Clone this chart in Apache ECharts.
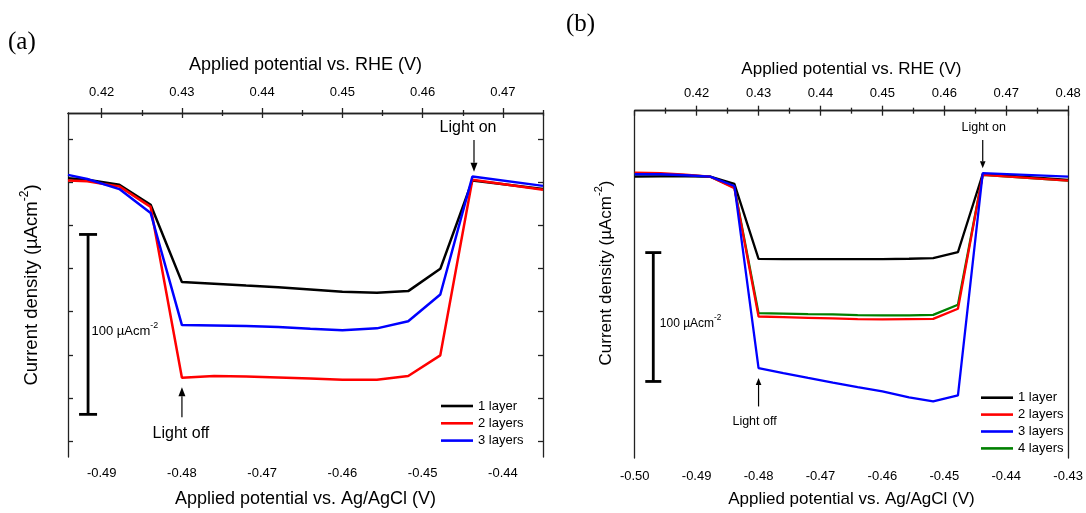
<!DOCTYPE html>
<html><head><meta charset="utf-8">
<script src="https://cdn.jsdelivr.net/npm/echarts@6/dist/echarts.min.js"></script>
<style>html,body{margin:0;padding:0;background:#fff}#c{width:1086px;height:513px}</style>
</head><body><div id="c"></div>
<script>
// ---------- data ----------
const RHE_SHIFT = 0.91; // E(RHE) = E(Ag/AgCl) + 0.91 V
const layerNames = ['1 layer', '2 layers', '3 layers', '4 layers'];
const layerColors = ['#000000', '#ff0000', '#0000ff', '#008000'];

// panel (a): potential vs Ag/AgCl (V) and current density (µA cm-2, arbitrary offset)
const potA = [-0.4942, -0.4918, -0.4878, -0.4839, -0.4800, -0.4760, -0.4720, -0.4680, -0.4640, -0.4600, -0.4557, -0.4518, -0.4478, -0.4438, -0.4350];
const a1 = [-36.2, -37.1, -39.9, -51.0, -94.0, -94.9, -95.9, -96.8, -98.1, -99.4, -99.9, -99.0, -86.6, -37.5, -42.3];
const a2 = [-37.5, -38.0, -40.8, -52.2, -147.1, -146.2, -146.5, -147.0, -147.6, -148.2, -148.2, -146.2, -134.7, -37.1, -42.7];
const a3 = [-34.4, -36.7, -42.3, -55.6, -117.9, -118.1, -118.4, -119.0, -119.9, -120.7, -119.7, -115.7, -100.9, -35.3, -40.5];

// panel (b)
const potB = [-0.5000, -0.4958, -0.4918, -0.4878, -0.4839, -0.4800, -0.4760, -0.4720, -0.4680, -0.4640, -0.4600, -0.4557, -0.4518, -0.4478, -0.4438, -0.4300];
const b1 = [-51.2, -51.0, -50.9, -51.2, -56.8, -115.0, -115.2, -115.2, -115.2, -115.2, -115.2, -114.9, -114.4, -109.8, -49.1, -53.7];
const b2 = [-48.1, -48.5, -49.6, -51.2, -60.2, -159.7, -160.2, -160.7, -161.2, -161.7, -161.9, -161.7, -161.5, -153.7, -49.8, -54.3];
const b3 = [-49.3, -49.3, -50.1, -51.2, -58.4, -199.7, -203.6, -207.4, -211.0, -214.5, -217.8, -222.5, -225.6, -220.9, -48.5, -51.2];
const b4 = [-49.3, -49.3, -50.1, -51.2, -59.5, -157.1, -157.4, -157.8, -158.1, -158.6, -158.9, -158.8, -158.4, -150.6, -49.8, -54.3];

// axis ranges and ticks
const rangeA = [-0.4942, -0.435];
const rangeB = [-0.50, -0.43];
const yRangeA = [-191.2, 0];
const yRangeB = [-269.5, 0];
const ticksA = [-0.49, -0.48, -0.47, -0.46, -0.45, -0.44];
const minorA = [-0.485, -0.475, -0.465, -0.455, -0.445, -0.435];
const topTicksA = [0.42, 0.43, 0.44, 0.45, 0.46, 0.47];
const topMinorA = [0.425, 0.435, 0.445, 0.455, 0.465, 0.475];
const ticksB = [-0.50, -0.49, -0.48, -0.47, -0.46, -0.45, -0.44, -0.43];
const minorB = [-0.495, -0.485, -0.475, -0.465, -0.455, -0.445, -0.435];
const topTicksB = [0.41, 0.42, 0.43, 0.44, 0.45, 0.46, 0.47, 0.48];
const topMinorB = [0.415, 0.425, 0.435, 0.445, 0.455, 0.465, 0.475];
const yTicksA = [-14.4, -38.4, -62.4, -86.4, -110.4, -134.4, -158.4, -182.4];

// annotations (data coordinates): [potential, yStart, yEnd]
const scaleBarA = [-0.4917, -67.5, -167.5];
const scaleBarB = [-0.4970, -110.1, -210.1];
const lightOffA = [-0.48, -169.1, -152.4];
const lightOnA = [-0.4436, -15.0, -32.7];
const lightOffB = [-0.48, -229.5, -207.4];
const lightOnB = [-0.4438, -22.7, -44.7];

// ---------- chart ----------
const FONT = '"Liberation Sans", Arial, sans-serif';
const chart = echarts.init(document.getElementById('c'), null, {renderer: 'canvas'});
const fmt = v => Number(v).toFixed(2);
const AXC = '#222';

function zip(x, y) { return x.map((v, i) => [v, y[i]]); }

function xAxisMajor(grid, pos, range, ticks, name, nameSize, nameGap, labelMargin) {
  return {
    type: 'value', gridIndex: grid, position: pos, min: range[0], max: range[1],
    name: name, nameLocation: 'middle', nameGap: nameGap,
    nameTextStyle: {fontFamily: FONT, fontSize: nameSize, color: '#000'},
    axisLine: {show: true, lineStyle: {color: AXC, width: 1.3}},
    axisTick: {show: true, inside: false, length: 5, customValues: ticks, lineStyle: {color: AXC, width: 1.3}},
    axisLabel: {show: true, customValues: ticks, formatter: fmt, fontFamily: FONT, fontSize: 13, color: '#000', margin: labelMargin},
    splitLine: {show: false}
  };
}
function xAxisMinor(grid, pos, range, ticks) {
  return {
    type: 'value', gridIndex: grid, position: pos, min: range[0], max: range[1],
    axisLine: {show: false},
    axisTick: {show: true, inside: false, length: 3, customValues: ticks, lineStyle: {color: AXC, width: 1.3}},
    axisLabel: {show: false}, splitLine: {show: false}
  };
}
function yAxis(grid, pos, range, ticks) {
  return {
    type: 'value', gridIndex: grid, position: pos, min: range[0], max: range[1],
    axisLine: {show: true, lineStyle: {color: AXC, width: 1.3}},
    axisTick: ticks ? {show: true, inside: true, length: 5, customValues: ticks, lineStyle: {color: AXC, width: 1.3}} : {show: false},
    axisLabel: {show: false}, splitLine: {show: false}
  };
}

const shift = r => [r[0] + RHE_SHIFT, r[1] + RHE_SHIFT];

function scaleBarRender(capHalf, lw, dx, dy, fs) {
  return function (params, api) {
    const p1 = api.coord([api.value(0), api.value(1)]);
    const p2 = api.coord([api.value(0), api.value(2)]);
    const st = {stroke: '#000', lineWidth: lw};
    return {type: 'group', children: [
      {type: 'line', shape: {x1: p1[0], y1: p1[1], x2: p2[0], y2: p2[1]}, style: st},
      {type: 'line', shape: {x1: p1[0] - capHalf, y1: p1[1], x2: p1[0] + capHalf, y2: p1[1]}, style: st},
      {type: 'line', shape: {x1: p2[0] - capHalf, y1: p2[1], x2: p2[0] + capHalf, y2: p2[1]}, style: st},
      {type: 'text', x: p1[0] + dx, y: (p1[1] + p2[1]) / 2 + dy, style: {
        text: '{n|100 µAcm}{s|-2}', align: 'left', verticalAlign: 'middle', textAlign: 'left', textVerticalAlign: 'middle',
        rich: {n: {fontFamily: FONT, fontSize: fs, lineHeight: fs + 4, verticalAlign: 'bottom', fill: '#000'},
               s: {fontFamily: FONT, fontSize: fs * 0.68, lineHeight: fs * 0.7, verticalAlign: 'top', fill: '#000'}}
      }}
    ]};
  };
}
function arrowRender(text, head, headW, textDx, textDy, fs) {
  return function (params, api) {
    const p1 = api.coord([api.value(0), api.value(1)]);
    const p2 = api.coord([api.value(0), api.value(2)]);
    const dir = p2[1] > p1[1] ? 1 : -1;
    const base = p2[1] - dir * head;
    return {type: 'group', children: [
      {type: 'line', shape: {x1: p1[0], y1: p1[1], x2: p2[0], y2: base}, style: {stroke: '#000', lineWidth: 1.2}},
      {type: 'polygon', shape: {points: [[p2[0], p2[1]], [p2[0] - headW, base], [p2[0] + headW, base]]}, style: {fill: '#000'}},
      {type: 'text', x: p1[0] + textDx, y: p1[1] + textDy, style: {
        text: text, fontFamily: FONT, fontSize: fs, fill: '#000',
        align: 'center', verticalAlign: 'middle', textAlign: 'center', textVerticalAlign: 'middle'}}
    ]};
  };
}

const seriesA = [a1, a2, a3].map((d, i) => ({
  type: 'line', name: layerNames[i], xAxisIndex: 0, yAxisIndex: 0, data: zip(potA, d),
  symbol: 'none', showSymbol: false, color: layerColors[i], lineStyle: {width: 2.5, color: layerColors[i]},
  animation: false, z: 3 + i
}));
const seriesB = [b1, b2, b3, b4].map((d, i) => ({
  type: 'line', name: layerNames[i], xAxisIndex: 4, yAxisIndex: 2, data: zip(potB, d),
  symbol: 'none', showSymbol: false, color: layerColors[i], lineStyle: {width: 2.3, color: layerColors[i]},
  animation: false, z: i === 3 ? 2 : 3 + i
}));

const yTitle = (x, y, fs) => ({
  type: 'text', x: x, y: y, rotation: Math.PI / 2,
  style: {text: '{n|Current density (µAcm}{s|-2}{n|)}', align: 'center', verticalAlign: 'middle',
    textAlign: 'center', textVerticalAlign: 'middle',
    rich: {n: {fontFamily: FONT, fontSize: fs, lineHeight: fs + 4, verticalAlign: 'bottom', fill: '#000'},
           s: {fontFamily: FONT, fontSize: fs * 0.65, lineHeight: fs * 0.7, verticalAlign: 'top', fill: '#000'}}}
});

const legendBase = {
  orient: 'vertical', icon: 'rect', itemWidth: 32, itemHeight: 2.6, padding: 0, selectedMode: false,
  textStyle: {fontFamily: FONT, fontSize: 13, color: '#000', lineHeight: 13}
};

const option = {
  backgroundColor: '#ffffff',
  animation: false,
  grid: [
    {left: 68, top: 113, width: 475, height: 345},
    {left: 634.7, top: 110.7, width: 434.3, height: 347.6}
  ],
  xAxis: [
    xAxisMajor(0, 'bottom', rangeA, ticksA, 'Applied potential vs. Ag/AgCl (V)', 18, 33, 10),
    xAxisMinor(0, 'bottom', rangeA, minorA),
    xAxisMajor(0, 'top', shift(rangeA), topTicksA, 'Applied potential vs. RHE (V)', 18, 39, 14),
    xAxisMinor(0, 'top', shift(rangeA), topMinorA),
    xAxisMajor(1, 'bottom', rangeB, ticksB, 'Applied potential vs. Ag/AgCl (V)', 17, 33, 12),
    xAxisMinor(1, 'bottom', rangeB, minorB),
    xAxisMajor(1, 'top', shift(rangeB), topTicksB, 'Applied potential vs. RHE (V)', 17, 33, 11),
    xAxisMinor(1, 'top', shift(rangeB), topMinorB)
  ],
  yAxis: [
    yAxis(0, 'left', yRangeA, yTicksA),
    yAxis(0, 'right', yRangeA, yTicksA),
    yAxis(1, 'left', yRangeB, null),
    yAxis(1, 'right', yRangeB, null)
  ],
  legend: [
    Object.assign({}, legendBase, {data: layerNames.slice(0, 3), left: 441, top: 399.5, itemGap: 4.3}),
    Object.assign({}, legendBase, {data: layerNames.slice(0, 4), left: 981, top: 391.2, itemGap: 3.9})
  ],
  series: seriesA.concat(seriesB).concat([
    {type: 'custom', xAxisIndex: 0, yAxisIndex: 0, data: [scaleBarA], renderItem: scaleBarRender(9, 2.8, 3.5, 5, 13), silent: true, z: 10},
    {type: 'custom', xAxisIndex: 4, yAxisIndex: 2, data: [scaleBarB], renderItem: scaleBarRender(8, 2.8, 6.5, 4.5, 12), silent: true, z: 10},
    {type: 'custom', xAxisIndex: 0, yAxisIndex: 0, data: [lightOffA], renderItem: arrowRender('Light off', 9, 3.5, -1, 16, 16), silent: true, z: 10},
    {type: 'custom', xAxisIndex: 0, yAxisIndex: 0, data: [lightOnA], renderItem: arrowRender('Light on', 9, 3.5, -6, -12, 16), silent: true, z: 10},
    {type: 'custom', xAxisIndex: 4, yAxisIndex: 2, data: [lightOffB], renderItem: arrowRender('Light off', 7, 2.8, -4, 15, 12.5), silent: true, z: 10},
    {type: 'custom', xAxisIndex: 4, yAxisIndex: 2, data: [lightOnB], renderItem: arrowRender('Light on', 7, 2.8, 1, -12, 12.5), silent: true, z: 10}
  ]),
  graphic: [
    {type: 'text', x: 8, y: 30, style: {text: '(a)', fontFamily: '"Liberation Serif", "Times New Roman", serif', fontSize: 25, fill: '#000'}},
    {type: 'text', x: 566, y: 12, style: {text: '(b)', fontFamily: '"Liberation Serif", "Times New Roman", serif', fontSize: 25, fill: '#000'}},
    yTitle(30, 285, 18.5),
    yTitle(604, 273, 17)
  ]
};
chart.setOption(option);
</script></body></html>
